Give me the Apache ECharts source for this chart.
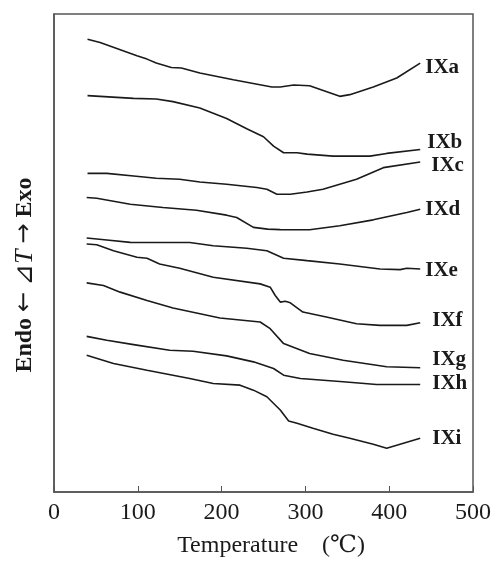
<!DOCTYPE html>
<html>
<head>
<meta charset="utf-8">
<script src="https://cdn.jsdelivr.net/npm/echarts@6/dist/echarts.min.js"></script>
</head>
<body style="margin: 0; background: #fff">
<div id="container" style="width: 496px; height: 563px"></div>
<script>
  // DTA curves, [temperature (C), delta T (arbitrary)]
  const curveIXa = [[40, 454.7], [55, 451.3], [99, 438], [111, 434.7], [122, 430.7], [140, 426.3], [152, 425.7], [174, 420.7], [214, 414], [260, 406.7], [270, 406.7], [286, 408.7], [305, 408], [341, 397.3], [353, 399], [381, 406.7], [409, 415.7], [437, 430.7]];
  const curveIXb = [[40, 398], [55, 397.3], [95, 395.3], [122, 394.7], [142, 392], [174, 385.7], [206, 375], [230, 364.7], [250, 356.7], [262, 347.3], [274, 340.7], [290, 340.7], [302, 339.3], [333, 337.3], [377, 337.3], [397, 340], [437, 344]];
  const curveIXc = [[40, 320], [63, 320], [95, 317.3], [122, 315], [150, 314], [174, 311.3], [206, 309], [242, 305.7], [254, 304], [266, 299], [282, 299], [302, 301.3], [321, 304], [361, 314], [393, 325.7], [437, 331.3]];
  const curveIXd = [[39, 295.7], [51, 295], [91, 289], [130, 285.7], [170, 283], [206, 278], [218, 275.7], [238, 265.7], [255, 264], [270, 263.5], [305, 263.3], [341, 267.3], [381, 273.3], [421, 280.7], [437, 284]];
  const curveIXe = [[39, 255], [63, 253], [91, 250.7], [162, 250.5], [190, 247.3], [230, 244.7], [254, 242.3], [274, 234.7], [302, 232.3], [341, 229], [389, 224], [413, 223.3], [421, 224.7], [437, 224]];
  const curveIXf = [[39, 249], [51, 248.3], [71, 242.3], [99, 235.7], [111, 234.7], [126, 229], [150, 224.7], [190, 215.7], [246, 209], [258, 205.7], [264, 197.3], [270, 190.7], [276, 191.5], [282, 190], [297, 180.7], [325, 175.7], [361, 169], [389, 167.3], [421, 167.3], [437, 170]];
  const curveIXg = [[39, 210], [59, 207.3], [79, 200.7], [111, 192.3], [142, 184.7], [198, 174.7], [246, 170.7], [258, 164], [274, 149], [305, 139], [345, 132.3], [397, 125.7], [437, 124.7]];
  const curveIXh = [[39, 156.3], [63, 152.3], [95, 148], [138, 142.3], [166, 141.3], [206, 136.7], [238, 130.7], [262, 124], [274, 117.3], [294, 114], [345, 110.7], [385, 108], [437, 108]];
  const curveIXi = [[39, 137.3], [71, 129], [111, 122.3], [162, 114], [190, 109], [222, 107.3], [238, 102.3], [254, 95.7], [270, 82.3], [280, 71.3], [290, 69], [309, 64], [333, 58], [353, 54], [381, 48], [397, 44], [413, 48], [437, 54]];

  const curveNames = ['IXa', 'IXb', 'IXc', 'IXd', 'IXe', 'IXf', 'IXg', 'IXh', 'IXi'];
  const curves = [curveIXa, curveIXb, curveIXc, curveIXd, curveIXe, curveIXf, curveIXg, curveIXh, curveIXi];
  const xTicks = [0, 100, 200, 300, 400, 500];

  // where each end label sits relative to its line end
  const labelOffsets = [[0, 4], [2, -7], [6, 3], [0, 0], [0, 2], [7, -2], [7, -8], [7, -1], [7, 0]];

  const serif = '"Liberation Serif", "DejaVu Serif", serif';

  const mChart = echarts.init(document.getElementById('container'), null, {renderer: 'canvas'});

  const seriesList = curves.map(function (data, i) {
    return {
      type: 'line',
      name: curveNames[i],
      data: data,
      showSymbol: false,
      smooth: false,
      lineStyle: {color: '#1a1a1a', width: 1.6},
      endLabel: {
        show: true,
        formatter: curveNames[i],
        distance: 5,
        offset: labelOffsets[i],
        color: '#1a1a1a',
        fontFamily: serif,
        fontWeight: 'bold',
        fontSize: 21
      },
      animation: false
    };
  });

  const option = {
    animation: false,
    grid: {
      left: 54,
      right: 23,
      top: 14,
      bottom: 69,
      show: true,
      borderColor: '#555',
      borderWidth: 1.5
    },
    xAxis: {
      type: 'value',
      min: xTicks[0],
      max: xTicks[xTicks.length - 1],
      interval: 100,
      name: 'Temperature\u3000(\u2103)',
      nameLocation: 'middle',
      nameGap: 42,
      nameTextStyle: {
        color: '#1a1a1a',
        fontFamily: serif,
        fontSize: 24,
        padding: [0, 0, 0, 15]
      },
      axisLine: {lineStyle: {color: '#555', width: 1.5}},
      axisTick: {inside: true, length: 6, lineStyle: {color: '#555', width: 1}},
      axisLabel: {
        color: '#1a1a1a',
        fontFamily: serif,
        fontSize: 24,
        margin: 9,
        showMinLabel: true,
        showMaxLabel: true
      },
      splitLine: {show: false}
    },
    yAxis: {
      type: 'value',
      min: 0,
      max: 480,
      axisLine: {show: true, lineStyle: {color: '#555', width: 1.5}},
      axisTick: {show: false},
      axisLabel: {show: false},
      splitLine: {show: false}
    },
    graphic: [{
      type: 'text',
      x: 25,
      y: 275,
      rotation: Math.PI / 2,
      style: {
        text: 'Endo {a|\u2190} {d|\u22BF}{t|T} {a|\u2192} Exo',
        fill: '#1a1a1a',
        font: 'bold 24px ' + serif,
        align: 'center',
        verticalAlign: 'middle',
        rich: {
          a: {fontFamily: '"DejaVu Sans", sans-serif', fontSize: 24, fontWeight: 'normal', fill: '#1a1a1a'},
          d: {fontFamily: '"DejaVu Sans", sans-serif', fontSize: 26, fontWeight: 'normal', fill: '#1a1a1a'},
          t: {fontFamily: serif, fontSize: 26, fontStyle: 'italic', fontWeight: 'normal', fill: '#1a1a1a'}
        }
      }
    }],
    series: seriesList
  };

  mChart.setOption(option);
</script>
</body>
</html>
